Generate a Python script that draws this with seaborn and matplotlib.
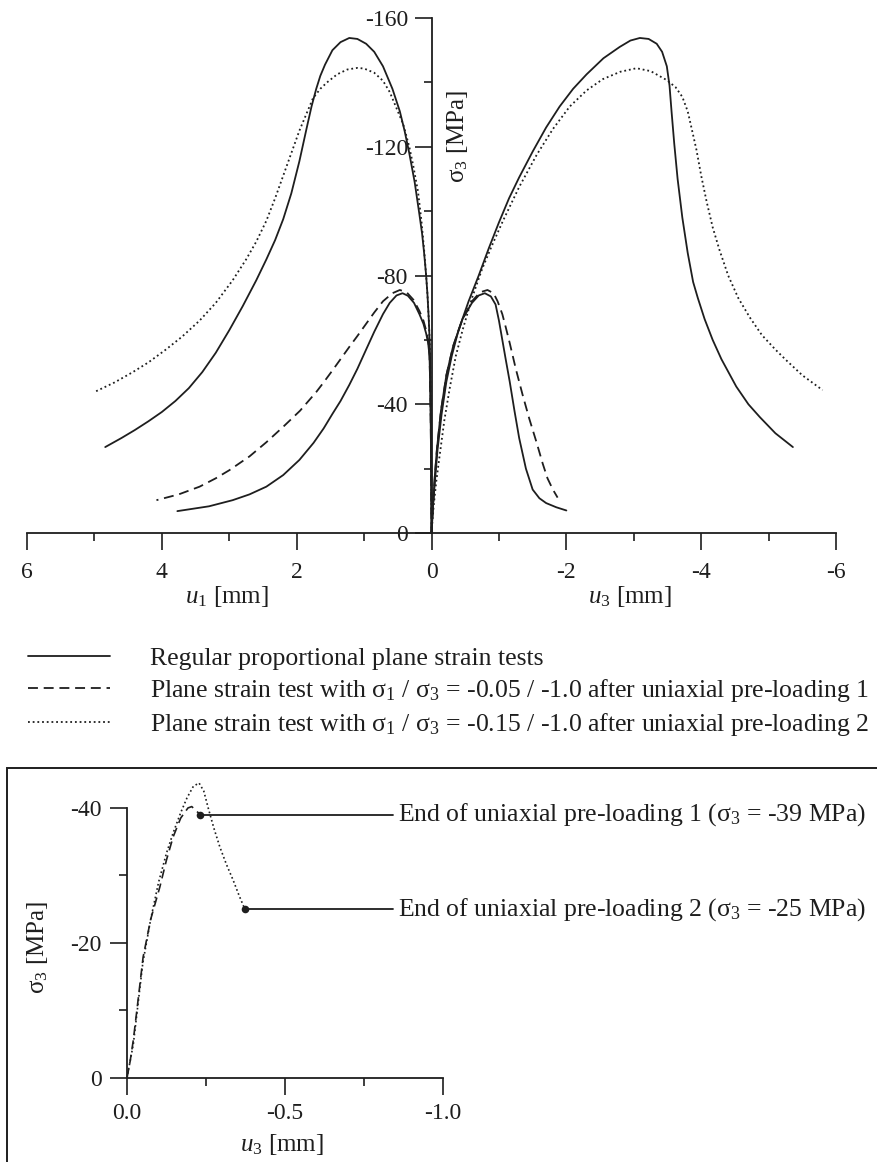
import matplotlib
matplotlib.use("Agg")
import matplotlib.pyplot as plt
import seaborn as sns
from matplotlib.lines import Line2D
from matplotlib.patches import Rectangle
from matplotlib.ticker import FixedLocator, FuncFormatter
from matplotlib.transforms import blended_transform_factory

# ---------------------------------------------------------------- data
# main diagram: left half u1 (positive), right half u3 (negative), sigma_3 in MPa
# regular proportional tests
reg_big_u1 = [0, 0.002, 0.005, 0.008, 0.012, 0.018, 0.025, 0.04, 0.06, 0.08, 0.11, 0.14, 0.18,
              0.25, 0.33, 0.4, 0.47, 0.58, 0.72, 0.85, 0.97, 1.1, 1.22, 1.35, 1.47, 1.58, 1.65,
              1.71, 1.78, 1.85, 1.96, 2.08, 2.2, 2.32, 2.45, 2.6, 2.8, 3.0, 3.2, 3.4, 3.6,
              3.8, 4.0, 4.2, 4.4, 4.6, 4.84]
reg_big_s1 = [0, -10, -20, -30, -40, -50, -58, -66, -74, -80, -87, -93, -99,
              -109, -118, -125, -131, -138, -145, -149.5, -152, -153.5, -153.8, -152.5, -150, -145.5, -142,
              -138, -132.5, -126, -115.5, -105.5, -97.5, -91, -85, -78.5, -70.5, -63, -56, -50, -45,
              -41, -37.6, -34.7, -32, -29.5, -26.7]
reg_small_u1 = [0, 0.003, 0.006, 0.01, 0.015, 0.022, 0.03, 0.05, 0.08, 0.12, 0.18, 0.26, 0.35,
                0.43, 0.52, 0.62, 0.72, 0.85, 0.97, 1.1, 1.22, 1.35, 1.47, 1.6, 1.75, 1.96, 2.2,
                2.45, 2.7, 2.95, 3.3, 3.77]
reg_small_s1 = [0, -10, -20, -30, -40, -48, -55, -59, -62, -65, -68, -71.5, -73.7,
                -74.5, -73.8, -71.5, -68, -62.5, -57, -51, -46, -41, -37, -32.5, -28, -22.7, -18,
                -14.4, -12, -10.2, -8.3, -6.8]
reg_big_u3 = [0, -0.02, -0.05, -0.09, -0.15, -0.22, -0.3, -0.4, -0.55, -0.7, -0.85, -1.0, -1.15,
              -1.3, -1.5, -1.7, -1.9, -2.1, -2.3, -2.55, -2.79, -2.95, -3.09, -3.22, -3.34, -3.42,
              -3.49, -3.53, -3.56, -3.6, -3.65, -3.72, -3.8, -3.88, -3.95, -4.05, -4.17, -4.3,
              -4.52, -4.7, -4.87, -5.1, -5.36]
reg_big_s3 = [0, -8, -16, -26, -37, -47, -55, -63, -72, -80, -88.5, -96.5, -104,
              -110.5, -118.5, -126, -132.5, -138, -142.5, -147.5, -151, -153, -153.8, -153.5, -152, -149.5,
              -145, -139, -131, -121, -110, -98, -87, -78, -73, -66.5, -60, -54,
              -45.5, -40, -36, -31, -26.7]
reg_small_u3 = [0, -0.02, -0.05, -0.08, -0.14, -0.22, -0.32, -0.46, -0.6, -0.7, -0.79, -0.88,
                -0.95, -1.0, -1.05, -1.1, -1.16, -1.23, -1.3, -1.4, -1.5, -1.6, -1.7, -1.85, -2.0]
reg_small_s3 = [0, -8, -18, -26, -38, -49, -58, -66.5, -71.5, -73.8, -74.5, -73.5,
                -71, -66, -60, -54, -47, -38, -29.5, -20, -13.5, -10.8, -9.3, -8, -7]

# plane strain after uniaxial pre-loading 1 (sigma1/sigma3 = -0.05/-1.0)
pre1_u1 = [0, 0.003, 0.006, 0.01, 0.015, 0.022, 0.03, 0.05, 0.08, 0.12, 0.18, 0.27, 0.37, 0.47,
           0.58, 0.72, 0.85, 0.97, 1.1, 1.22, 1.35, 1.47, 1.6, 1.71, 1.95, 2.2, 2.45, 2.7, 3.0,
           3.2, 3.44, 3.75, 4.08]
pre1_s1 = [0, -10, -20, -30, -40, -48, -55, -60, -63, -66, -69, -72.5, -74.8, -75.5,
           -74.5, -72, -68.5, -65, -61.2, -57.8, -54, -50.5, -46.8, -43.8, -38, -33, -28.2, -23.8, -19.5,
           -17, -14.4, -12, -10.2]
pre1_u3 = [0, -0.02, -0.05, -0.08, -0.14, -0.22, -0.32, -0.46, -0.6, -0.72, -0.83, -0.92, -0.98,
           -1.05, -1.1, -1.16, -1.25, -1.35, -1.45, -1.56, -1.65, -1.72, -1.8, -1.87]
pre1_s3 = [0, -8, -18, -26, -38, -49, -58, -66.5, -72, -74.8, -75.5, -74.5, -72,
           -68, -64, -59, -51, -43, -35.5, -28, -21.5, -17, -13.5, -11]

# plane strain after uniaxial pre-loading 2 (sigma1/sigma3 = -0.15/-1.0)
pre2_u1 = [0, 0.002, 0.005, 0.008, 0.012, 0.018, 0.025, 0.04, 0.06, 0.08, 0.11, 0.15, 0.2, 0.27,
           0.33, 0.42, 0.52, 0.62, 0.72, 0.85, 1.0, 1.1, 1.25, 1.4, 1.55, 1.65, 1.76, 1.86, 1.96,
           2.08, 2.2, 2.32, 2.45, 2.6, 2.75, 2.95, 3.2, 3.44, 3.7, 3.94, 4.2, 4.43, 4.7, 5.0]
pre2_s1 = [0, -10, -20, -30, -40, -50, -58, -66, -74, -80, -88, -97, -106, -114,
           -120, -127, -132, -137, -140.5, -143, -144.3, -144.5, -144, -142.5, -140, -138, -135, -130, -125,
           -118, -111, -104, -97, -90.5, -85, -78.5, -71.5, -66, -61, -57, -53, -50, -46.8, -43.8]
pre2_u3 = [0, -0.03, -0.07, -0.12, -0.19, -0.27, -0.36, -0.46, -0.6, -0.75, -0.9, -1.06, -1.3,
           -1.56, -1.8, -2.05, -2.3, -2.54, -2.8, -3.04, -3.25, -3.49, -3.62, -3.72, -3.8, -3.86,
           -3.93, -4.0, -4.08, -4.17, -4.27, -4.4, -4.55, -4.72, -4.9, -5.1, -5.26, -5.5, -5.8]
pre2_s3 = [0, -8, -16, -24, -35, -45, -55, -63, -73, -82, -89.5, -97, -107.5,
           -117.5, -125.5, -132.5, -137.5, -141, -143.3, -144.4, -143.5, -140.7, -138.5, -135.5, -131, -125.5,
           -119, -111, -103, -95, -88, -80, -73, -67, -61.5, -57, -53.7, -49, -44.4]

# uniaxial pre-loading paths (inset)
uni1_u3 = [0, -0.01, -0.02, -0.035, -0.051, -0.075, -0.104, -0.125, -0.146, -0.17, -0.193, -0.205, -0.232]
uni1_s3 = [0, -2.5, -5.6, -11.5, -17.9, -23.5, -28.3, -32.3, -35.7, -38.5, -40.0, -40.2, -39.0]
uni2_u3 = [0, -0.01, -0.02, -0.035, -0.05, -0.075, -0.1, -0.125, -0.146, -0.17, -0.19, -0.21,
           -0.228, -0.243, -0.257, -0.275, -0.294, -0.315, -0.336, -0.355, -0.373]
uni2_s3 = [0, -2.5, -5.0, -11.0, -17.0, -23.5, -29.0, -33.3, -36.3, -39.3, -41.5, -43.2,
           -43.7, -42.5, -40.0, -37.0, -34.2, -31.6, -29.3, -27.0, -25.0]
end_levels = [-39, -25]
end_labels = ["End of uniaxial pre-loading 1 ($\\mathrm{\\sigma}_3$ = -39 MPa)",
              "End of uniaxial pre-loading 2 ($\\mathrm{\\sigma}_3$ = -25 MPa)"]

legend_labels = [
    "Regular proportional plane strain tests",
    "Plane strain test with $\\mathrm{\\sigma}_1$ / $\\mathrm{\\sigma}_3$ = -0.05 / -1.0 after uniaxial pre-loading 1",
    "Plane strain test with $\\mathrm{\\sigma}_1$ / $\\mathrm{\\sigma}_3$ = -0.15 / -1.0 after uniaxial pre-loading 2",
]

# ---------------------------------------------------------------- style
sns.set_style("ticks")
plt.rcParams["font.family"] = ["Liberation Serif", "DejaVu Serif"]
plt.rcParams["mathtext.fontset"] = "custom"
plt.rcParams["mathtext.rm"] = "Liberation Serif"
plt.rcParams["mathtext.it"] = "Liberation Serif:italic"
plt.rcParams["mathtext.bf"] = "Liberation Serif:bold"
plt.rcParams["axes.unicode_minus"] = False

INK = "#1e1e1e"
FS_TICK = 17
FS_LAB = 18
FS_TXT = 18.5
LINE = {"solid": "-", "dashed": (0, (5.5, 3.2)), "dotted": (0, (1, 1.6))}


def curve(ax, u, s, kind, lw=1.3):
    sns.lineplot(x=u, y=s, ax=ax, sort=False, estimator=None, color=INK,
                 linewidth=lw, linestyle=LINE[kind], clip_on=False)


fig = plt.figure(figsize=(8.77, 11.62), dpi=100)

# ---------------------------------------------------------------- main diagram
ax = fig.add_axes([0.0308, 0.5413, 0.9225, 0.4432])
curve(ax, reg_big_u1, reg_big_s1, "solid")
curve(ax, reg_small_u1, reg_small_s1, "solid")
curve(ax, reg_big_u3, reg_big_s3, "solid")
curve(ax, reg_small_u3, reg_small_s3, "solid")
curve(ax, pre1_u1, pre1_s1, "dashed")
curve(ax, pre1_u3, pre1_s3, "dashed")
curve(ax, pre2_u1, pre2_s1, "dotted")
curve(ax, pre2_u3, pre2_s3, "dotted")

ax.set_xlim(6, -6)
ax.set_ylim(0, -160)
ax.set_xlabel("")
ax.set_ylabel("")
for side in ("top", "right"):
    ax.spines[side].set_visible(False)
ax.spines["left"].set_position(("data", 0))
for side in ("left", "bottom"):
    ax.spines[side].set_linewidth(1.3)
    ax.spines[side].set_color(INK)

ax.xaxis.set_major_locator(FixedLocator([6, 4, 2, 0, -2, -4, -6]))
ax.xaxis.set_minor_locator(FixedLocator([5, 3, 1, -1, -3, -5]))
ax.yaxis.set_major_locator(FixedLocator([0, -40, -80, -120, -160]))
ax.yaxis.set_minor_locator(FixedLocator([-20, -60, -100, -140]))
int_fmt = FuncFormatter(lambda v, p: "%d" % round(v))
ax.xaxis.set_major_formatter(int_fmt)
ax.yaxis.set_major_formatter(int_fmt)
ax.tick_params(which="major", direction="out", length=12, width=1.2, color=INK,
               labelsize=FS_TICK, labelcolor=INK)
ax.tick_params(which="minor", direction="out", length=6, width=1.2, color=INK)
ax.tick_params(axis="x", which="major", pad=9)
ax.tick_params(axis="y", which="major", pad=5)

xt = blended_transform_factory(ax.transData, ax.transAxes)
ax.text(3.04, -0.124, "$u_1$ [mm]", transform=xt, ha="center", va="center", fontsize=FS_LAB, color=INK)
ax.text(-2.94, -0.124, "$u_3$ [mm]", transform=xt, ha="center", va="center", fontsize=FS_LAB, color=INK)
ax.text(0.5315, 0.77, "$\\mathrm{\\sigma}_3$ [MPa]", transform=ax.transAxes, rotation=90,
        ha="center", va="center", fontsize=FS_LAB, color=INK)

# legend below the main diagram
handles = [Line2D([], [], color=INK, linewidth=1.3, linestyle=LINE[k])
           for k in ("solid", "dashed", "dotted")]
fig.legend(handles, legend_labels, loc="upper left", bbox_to_anchor=(0.032, 0.443),
           frameon=False, fontsize=FS_TXT, handlelength=3.19, handletextpad=1.56,
           labelspacing=0.26, borderpad=0, borderaxespad=0, labelcolor=INK)

# ---------------------------------------------------------------- inset: uniaxial pre-loading
fig.add_artist(Rectangle((0.008, -0.05), 1.05, 0.389, transform=fig.transFigure,
                         fill=False, linewidth=1.4, edgecolor=INK))

bx = fig.add_axes([0.1448, 0.0723, 0.3603, 0.2324])
curve(bx, uni1_u3, uni1_s3, "dashed", lw=1.2)
curve(bx, uni2_u3, uni2_s3, "dotted", lw=1.2)
ends_u = [uni1_u3[-1], uni2_u3[-1]]
sns.scatterplot(x=ends_u, y=end_levels, ax=bx, color=INK, s=30, edgecolor=INK,
                linewidth=0, zorder=5, clip_on=False)
for u0, lev, lab in zip(ends_u, end_levels, end_labels):
    bx.plot([u0, -0.842], [lev, lev], color=INK, linewidth=1.3, clip_on=False)
    bx.text(-0.858, lev, lab, ha="left", va="center", fontsize=FS_TXT, color=INK, clip_on=False)

bx.set_xlim(0, -1.0)
bx.set_ylim(0, -40)
bx.set_xlabel("")
bx.set_ylabel("")
for side in ("top", "right"):
    bx.spines[side].set_visible(False)
for side in ("left", "bottom"):
    bx.spines[side].set_linewidth(1.3)
    bx.spines[side].set_color(INK)
bx.xaxis.set_major_locator(FixedLocator([0, -0.5, -1.0]))
bx.xaxis.set_minor_locator(FixedLocator([-0.25, -0.75]))
bx.yaxis.set_major_locator(FixedLocator([0, -20, -40]))
bx.yaxis.set_minor_locator(FixedLocator([-10, -30]))
bx.xaxis.set_major_formatter(FuncFormatter(lambda v, p: "%.1f" % (v + 0.0)))
bx.yaxis.set_major_formatter(int_fmt)
bx.tick_params(which="major", direction="out", length=12, width=1.2, color=INK,
               labelsize=FS_TICK, labelcolor=INK)
bx.tick_params(which="minor", direction="out", length=6, width=1.2, color=INK)
bx.tick_params(axis="x", which="major", pad=6)
bx.tick_params(axis="y", which="major", pad=6)
bx.text(0.49, -0.245, "$u_3$ [mm]", transform=bx.transAxes, ha="center", va="center",
        fontsize=FS_LAB, color=INK)
bx.text(-0.282, 0.485, "$\\mathrm{\\sigma}_3$ [MPa]", transform=bx.transAxes, rotation=90,
        ha="center", va="center", fontsize=FS_LAB, color=INK)

fig.savefig("out.png", dpi=100, facecolor="white")
